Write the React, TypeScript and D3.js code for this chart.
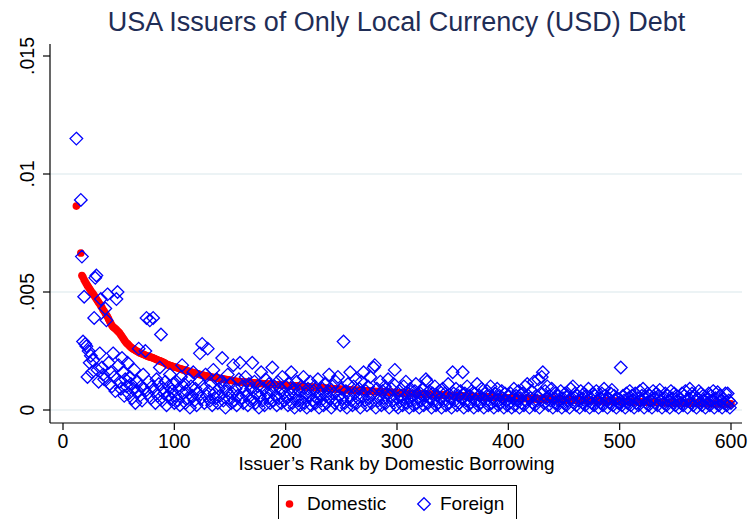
import React from "react";
import * as d3 from "d3";

// Issuer rank of the first entry; each following entry is the next rank.
const RANK_START = 12;
const X_TICKS = [0, 100, 200, 300, 400, 500, 600];
const Y_TICKS = [0, 0.005, 0.01, 0.015];
const Y_TICK_LABELS = ["0", ".005", ".01", ".015"];
const GRID_VALUES = [0, 0.005, 0.01];
const TITLE = "USA Issuers of Only Local Currency (USD) Debt";
const X_TITLE = "Issuer\u2019s Rank by Domestic Borrowing";
const SERIES_NAMES = ["Domestic", "Foreign"];

// Values in units of 0.00001 (share of borrowing), by rank starting at RANK_START
const domestic: (number | null)[] = [
  864, null, null, null, 665, 570, 562, 552, 543, 535,
  527, 520, 513, 505, 498, 492, 485, 478, 470, 463,
  456, 449, 441, 434, 425, 418, 410, 402, 395, 385,
  375, 366, 358, 352, 348, 344, 340, 335, 330, 325,
  318, 311, 304, 297, 290, 284, 280, 275, 270, 266,
  262, 259, 256, 253, 250, 248, 245, 242, 240, 238,
  236, 234, 232, 230, 228, 226, 225, 223, 222, 220,
  218, 216, 214, 212, 210, 208, 206, 204, 202, 200,
  197, 194, 192, 190, 188, 187, 185, 184, 182, 181,
  180, 178, 177, 175, 174, 172, 170, 169, 168, 166,
  165, 164, 162, 161, 160, 158, 157, 156, 154, 153,
  151, 150, 149, 148, 147, 146, 145, 144, 143, 142,
  141, 140, 139, 138, 137, 137, 136, 135, 134, 133,
  132, 132, 131, 130, 129, 129, 128, 127, 126, 125,
  125, 124, 123, 122, 121, 121, 120, 120, 119, 119,
  118, 118, 117, 117, 117, 116, 116, 115, 115, 115,
  114, 114, 113, 113, 113, 112, 112, 112, 111, 111,
  110, 110, 110, 109, 109, 109, 108, 108, 108, 107,
  107, 107, 106, 106, 106, 105, 105, 105, 104, 104,
  104, 103, 103, 103, 102, 102, 102, 101, 101, 101,
  100, 100, 100, 99, 99, 99, 98, 98, 98, 97,
  97, 97, 96, 96, 96, 95, 95, 95, 94, 94,
  94, 93, 93, 93, 92, 92, 92, 91, 91, 91,
  90, 90, 90, 89, 89, 89, 88, 88, 88, 87,
  87, 87, 86, 86, 86, 85, 85, 85, 84, 84,
  84, 83, 83, 83, 82, 82, 82, 81, 81, 81,
  80, 80, 80, 80, 79, 79, 79, 79, 78, 78,
  78, 78, 77, 77, 77, 77, 76, 76, 76, 76,
  75, 75, 75, 75, 74, 74, 74, 74, 73, 73,
  73, 73, 72, 72, 72, 72, 71, 71, 71, 71,
  70, 70, 70, 70, 69, 69, 69, 69, 68, 68,
  68, 68, 67, 67, 67, 67, 66, 66, 66, 66,
  65, 65, 65, 65, 64, 64, 64, 64, 63, 63,
  63, 63, 62, 62, 62, 62, 61, 61, 61, 61,
  60, 60, 60, 60, 60, 59, 59, 59, 59, 59,
  58, 58, 58, 58, 58, 57, 57, 57, 57, 57,
  56, 56, 56, 56, 56, 55, 55, 55, 55, 55,
  55, 54, 54, 54, 54, 54, 54, 53, 53, 53,
  53, 53, 53, 52, 52, 52, 52, 52, 52, 51,
  51, 51, 51, 51, 51, 50, 50, 50, 50, 50,
  50, 49, 49, 49, 49, 49, 49, 48, 48, 48,
  48, 48, 48, 47, 47, 47, 47, 47, 47, 46,
  46, 46, 46, 46, 46, 45, 45, 45, 45, 45,
  45, 45, 44, 44, 44, 44, 44, 44, 44, 43,
  43, 43, 43, 43, 43, 43, 42, 42, 42, 42,
  42, 42, 42, 41, 41, 41, 41, 41, 41, 41,
  40, 40, 40, 40, 40, 40, 40, 39, 39, 39,
  39, 39, 39, 39, 38, 38, 38, 38, 38, 38,
  38, 37, 37, 37, 37, 37, 37, 37, 36, 36,
  36, 36, 36, 36, 36, 36, 35, 35, 35, 35,
  35, 35, 35, 35, 34, 34, 34, 34, 34, 34,
  34, 34, 33, 33, 33, 33, 33, 33, 33, 33,
  32, 32, 32, 32, 32, 32, 32, 32, 31, 31,
  31, 31, 31, 31, 31, 31, 31, 30, 30, 30,
  30, 30, 30, 30, 30, 30, 30, 29, 29, 29,
  29, 29, 29, 29, 29, 29, 29, 28, 28, 28,
  28, 28, 28, 28, 28, 28, 28, 28, 27, 27,
  27, 27, 27, 27, 27, 27, 27, 27, 27, 26,
  26, 26, 26, 26, 26, 26, 26, 26, 26,
];

const foreign: (number | null)[] = [
  1150, null, null, null, 890, 650, 290, 480, 280, 270,
  140, 250, 200, 230, 160, 210, 390, 560, 570, 170,
  120, 240, 470, 180, 150, 130, 430, 380, 490, 200,
  110, 160, 100, 240, 140, 80, 470, 500, 190, 120,
  90, 220, 160, 60, 130, 100, 200, 70, 140, 110,
  50, 90, 170, 30, 120, 80, 260, 60, 100, 40,
  150, 90, 250, 390, 70, 120, 380, 50, 100, 390,
  80, 30, 130, 60, 110, 180, 320, 40, 90, 70,
  120, 20, 60, 100, 150, 50, 80, 110, 30,
  // 101-200
  60, 120, 40, 90, 20, 140, 190, 70, 110, 30,
  80, 50, 130, 10, 100, 60, 160, 40, 90, 20,
  70, 120, 240, 50, 280, 100, 30, 150, 60, 260,
  80, 40, 110, 20, 170, 70, 50, 130, 30, 90,
  60, 120, 220, 40, 100, 10, 80, 150, 50, 110,
  30, 70, 190, 40, 90, 20, 60, 130, 200, 50,
  100, 30, 80, 140, 60, 20, 110, 40, 90, 200,
  50, 120, 30, 70, 100, 10, 60, 160, 40, 90,
  20, 130, 70, 50, 110, 30, 80, 180, 40, 100,
  60, 20, 120, 50, 90, 30, 140, 70, 40, 100,
  // 201-300
  50, 20, 110, 70, 160, 30, 90, 10, 60, 120,
  40, 80, 20, 100, 50, 140, 30, 70, 10, 90,
  60, 120, 20, 40, 80, 100, 30, 50, 130, 10,
  70, 40, 90, 20, 110, 60, 30, 80, 150, 50,
  10, 100, 70, 30, 120, 40, 140, 60, 20, 90,
  50, 290, 30, 80, 10, 110, 60, 160, 40, 20,
  100, 70, 130, 30, 50, 90, 10, 120, 60, 160,
  40, 80, 20, 100, 50, 140, 30, 70, 180, 190,
  10, 90, 40, 60, 120, 20, 80, 50, 100, 30,
  70, 130, 10, 60, 90, 40, 110, 170, 20, 50,
  // 301-400
  10, 80, 40, 60, 20, 100, 50, 120, 30, 70,
  10, 90, 40, 60, 20, 80, 110, 30, 50, 10,
  70, 40, 90, 20, 60, 130, 120, 30, 80, 50,
  10, 70, 40, 100, 20, 60, 30, 80, 50, 10,
  90, 40, 70, 20, 60, 110, 30, 50, 10, 160,
  70, 40, 90, 20, 60, 30, 80, 50, 160, 10,
  70, 40, 100, 20, 60, 30, 80, 50, 10, 70,
  40, 110, 20, 60, 30, 90, 50, 10, 70, 40,
  80, 20, 60, 100, 30, 50, 10, 70, 40, 90,
  20, 60, 30, 80, 50, 10, 70, 40, 20, 60,
  // 401-500
  30, 70, 10, 50, 90, 20, 60, 40, 80, 10,
  50, 30, 70, 20, 100, 40, 110, 60, 10, 50,
  80, 30, 120, 20, 60, 40, 130, 10, 70, 140,
  160, 30, 80, 50, 100, 20, 60, 40, 90, 10,
  50, 70, 30, 20, 60, 40, 80, 10, 50, 30,
  70, 20, 60, 40, 10, 90, 50, 100, 30, 70,
  20, 60, 40, 10, 80, 50, 30, 70, 20, 60,
  40, 90, 10, 50, 30, 70, 20, 60, 80, 40,
  10, 50, 30, 70, 20, 90, 60, 40, 10, 50,
  30, 70, 85, 20, 60, 40, 10, 50, 30, 30,
  // 501-600
  180, 20, 60, 40, 10, 70, 30, 50, 80, 20,
  60, 40, 10, 70, 30, 50, 20, 80, 40, 60,
  90, 10, 50, 30, 70, 20, 60, 40, 10, 80,
  50, 30, 70, 20, 60, 85, 40, 10, 50, 30,
  70, 20, 60, 40, 10, 80, 50, 30, 70, 20,
  60, 40, 10, 50, 30, 70, 20, 60, 80, 40,
  10, 50, 90, 30, 70, 20, 60, 40, 10, 50,
  80, 30, 70, 20, 60, 40, 10, 50, 30, 70,
  20, 60, 40, 80, 10, 50, 30, 75, 20, 60,
  40, 10, 50, 30, 70, 20, 70, 40, 10, 30,
];

const UNIT = 0.00001;
const FONT = "'Liberation Sans', Arial, Helvetica, sans-serif";

function toPoints(arr: (number | null)[]) {
  return arr
    .map((v, i) => ({ rank: RANK_START + i, value: v == null ? null : v * UNIT }))
    .filter((d) => d.value != null) as { rank: number; value: number }[];
}

const diamondPath = (cx: number, cy: number, r: number) =>
  `M${cx},${cy - r}L${cx + r},${cy}L${cx},${cy + r}L${cx - r},${cy}Z`;

export default function App() {
  const W = 749;
  const H = 519;
  const plotLeft = 50;
  const plotRight = 742;
  const plotTop = 44;
  const plotBottom = 423;

  const x = d3.scaleLinear().domain([0, 600]).range([63, 731]);
  const y = d3.scaleLinear().domain([0, 0.015]).range([410, 56]);

  const dom = toPoints(domestic);
  const frn = toPoints(foreign);

  const red = "#ff0000";
  const blue = "#0000ff";
  const DR = 6.3;

  return (
    <svg
      width={W}
      height={H}
      style={{ position: "absolute", left: 0, top: 0, background: "#ffffff" }}
      fontFamily={FONT}
    >
      <rect x={0} y={0} width={W} height={H} fill="#ffffff" />
      {/* title */}
      <text x={396.5} y={31} textAnchor="middle" fontSize={27} fill="#1f2d56">
        {TITLE}
      </text>
      {/* gridlines */}
      {GRID_VALUES.map((g) => (
        <line key={g} x1={plotLeft} x2={plotRight} y1={y(g)} y2={y(g)} stroke="#e6eff2" strokeWidth={1.3} />
      ))}
      {/* domestic points */}
      {dom.map((d) => (
        <circle key={"d" + d.rank} cx={x(d.rank)} cy={y(d.value)} r={3.8} fill={red} />
      ))}
      {/* foreign points */}
      {frn.map((d) => (
        <path
          key={"f" + d.rank}
          d={diamondPath(x(d.rank), y(d.value), DR)}
          fill="none"
          stroke={blue}
          strokeWidth={1.3}
        />
      ))}
      {/* axes */}
      <line x1={plotLeft} x2={plotLeft} y1={plotTop} y2={plotBottom} stroke="#000" strokeWidth={1.2} />
      <line x1={plotLeft} x2={plotRight} y1={plotBottom} y2={plotBottom} stroke="#000" strokeWidth={1.2} />
      {Y_TICKS.map((t, i) => (
        <g key={"yt" + t}>
          <line x1={plotLeft - 7} x2={plotLeft} y1={y(t)} y2={y(t)} stroke="#000" strokeWidth={1.2} />
          <text
            transform={`translate(33.5,${y(t)}) rotate(-90)`}
            textAnchor="middle"
            fontSize={19.5}
            fill="#000"
          >
            {Y_TICK_LABELS[i]}
          </text>
        </g>
      ))}
      {X_TICKS.map((t) => (
        <g key={"xt" + t}>
          <line x1={x(t)} x2={x(t)} y1={plotBottom} y2={plotBottom + 7} stroke="#000" strokeWidth={1.2} />
          <text x={x(t)} y={448} textAnchor="middle" fontSize={19.5} fill="#000">
            {t}
          </text>
        </g>
      ))}
      <text x={396.5} y={470} textAnchor="middle" fontSize={19} fill="#000">
        {X_TITLE}
      </text>
      {/* legend */}
      <rect x={278.5} y={485.5} width={238} height={45} fill="#fff" stroke="#000" strokeWidth={1} />
      <circle cx={289.5} cy={504} r={3.8} fill={red} />
      <text x={307} y={510} fontSize={19} fill="#000">
        {SERIES_NAMES[0]}
      </text>
      <path d={diamondPath(424, 504, DR)} fill="none" stroke={blue} strokeWidth={1.3} />
      <text x={440} y={510} fontSize={19} fill="#000">
        {SERIES_NAMES[1]}
      </text>
    </svg>
  );
}
